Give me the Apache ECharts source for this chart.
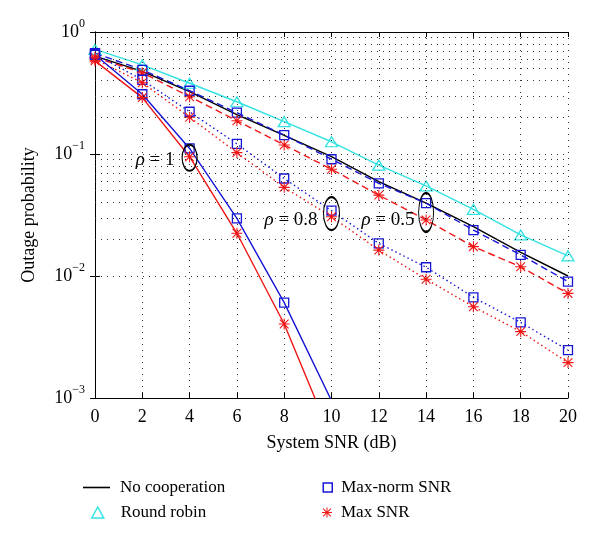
<!DOCTYPE html>
<html><head><meta charset="utf-8">
<script src="https://cdn.jsdelivr.net/npm/echarts@6/dist/echarts.min.js"></script>
<style>html,body{margin:0;padding:0;background:#fff}#c{width:600px;height:539px}</style>
</head><body><div id="c"></div>
<script>
// ---- data ----
const snr = [0, 2, 4, 6, 8, 10, 12, 14, 16, 18, 20];
const noCooperation = [0.635, 0.475, 0.325, 0.21, 0.142, 0.095, 0.0593, 0.0396, 0.0254, 0.0156, 0.0100];
const roundRobin    = [0.72, 0.537, 0.38, 0.268, 0.184, 0.126, 0.081, 0.0547, 0.0352, 0.0217, 0.0146];
const maxNormRho05  = [0.67, 0.49, 0.33, 0.218, 0.143, 0.0906, 0.0575, 0.0396, 0.0238, 0.0149, 0.009];
const maxSnrRho05   = [0.62, 0.464, 0.295, 0.1875, 0.1186, 0.075, 0.046, 0.0288, 0.0174, 0.0119, 0.0072];
const maxNormRho08  = [0.66, 0.405, 0.222, 0.121, 0.063, 0.0343, 0.0185, 0.0118, 0.00669, 0.00416, 0.00247];
const maxSnrRho08   = [0.60, 0.384, 0.20, 0.1026, 0.0533, 0.0306, 0.0163, 0.0094, 0.0056, 0.0035, 0.00195];
const maxNormRho1   = [0.65, 0.309, 0.111, 0.0297, 0.00605, 0.00095];
const maxSnrRho1    = [0.58, 0.29, 0.095, 0.0224, 0.00404, 0.00047];
const yTickExponents = [-3, -2, -1, 0];
const xTickLabels = ['0','2','4','6','8','10','12','14','16','18','20'];
const annotations = [
  {text: '{i|ρ} = 1',   x: 2.54,  y: 0.0893},
  {text: '{i|ρ} = 0.8', x: 8.29,  y: 0.0288},
  {text: '{i|ρ} = 0.5', x: 12.39, y: 0.0288}
];
const ellipses = [
  {x: 4,  y: 0.093,  w: 15, h: 26},
  {x: 10, y: 0.0325, w: 16, h: 33},
  {x: 14, y: 0.0332, w: 15, h: 39}
];

// ---- styling ----
const FONT = "'Liberation Serif','DejaVu Serif',serif";
const BLUE = '#1616d8', RED = '#f01616', CYAN = '#33e3e3', BLACK = '#000';
const STAR = 'path://M9,0L11,0L11,20L9,20Z M0,9L20,9L20,11L0,11Z M1.4,2.8L2.8,1.4L18.6,17.2L17.2,18.6Z M17.2,1.4L18.6,2.8L2.8,18.6L1.4,17.2Z';
const LINE_ICON = 'path://M0,0L27,0L27,1.6L0,1.6Z';
const DASH = [7, 4], DOT = [1.5, 3];

function pairs(vals) { return vals.map((v, i) => [snr[i], v]); }

const minorGrid = [];
[0.001, 0.01, 0.1].forEach(d => { for (let m = 2; m <= 9; m++) minorGrid.push({yAxis: +(d * m).toPrecision(3)}); });

function lineSeries(name, vals, color, type, symbol, size, hollow) {
  return {
    name, type: 'line', data: pairs(vals), clip: true,
    symbol: symbol, symbolSize: size, showSymbol: symbol !== 'none',
    lineStyle: {color, width: 1.4, type},
    itemStyle: hollow ? {color: 'rgba(0,0,0,0)', borderColor: color, borderWidth: 1.3} : {color, borderWidth: 0},
    emphasis: {disabled: true}, z: 3
  };
}

const series = [
  {
    name: 'grid', type: 'line', data: [], silent: true,
    markLine: {silent: true, symbol: 'none', label: {show: false},
      lineStyle: {color: '#333', width: 1, type: [1, 5]}, data: minorGrid, animation: false}
  },
  lineSeries('No cooperation', noCooperation, BLACK, 'solid', 'none', 0, false),
  lineSeries('Round robin', roundRobin, CYAN, 'solid', 'triangle', [12, 10], true),
  lineSeries('Max-norm SNR', maxNormRho05, BLUE, DASH, 'rect', 9, true),
  lineSeries('Max SNR', maxSnrRho05, RED, DASH, STAR, 11, false),
  lineSeries('Max-norm SNR', maxNormRho08, BLUE, DOT, 'rect', 9, true),
  lineSeries('Max SNR', maxSnrRho08, RED, DOT, STAR, 11, false),
  lineSeries('Max-norm SNR', maxNormRho1, BLUE, 'solid', 'rect', 9, true),
  lineSeries('Max SNR', maxSnrRho1, RED, 'solid', STAR, 11, false)
];
series[1].markPoint = {
  silent: true, animation: false,
  data: ellipses.map(e => ({coord: [e.x, e.y], symbol: 'circle', symbolSize: [e.w, e.h],
      itemStyle: {color: 'rgba(0,0,0,0)', borderColor: '#000', borderWidth: 1.5}, label: {show: false}}))
    .concat(annotations.map(a => ({coord: [a.x, a.y], symbol: 'circle', symbolSize: 0,
      label: {show: true, position: 'inside', formatter: a.text, color: '#000', fontFamily: FONT, fontSize: 19,
        rich: {i: {fontStyle: 'italic', fontFamily: FONT, fontSize: 19, color: '#000'}}}})))
};

const legendText = {fontFamily: FONT, fontSize: 17, color: '#000'};
const legendBase = {orient: 'vertical', selectedMode: false, itemGap: 0, padding: 0};

const option = {
  animation: false,
  backgroundColor: '#fff',
  grid: {left: 95, right: 32, top: 32, bottom: 141, containLabel: false},
  xAxis: [
    {type: 'value', min: 0, max: 20, interval: 2, position: 'bottom',
      name: 'System SNR (dB)', nameLocation: 'middle', nameGap: 36,
      nameTextStyle: {fontFamily: FONT, fontSize: 18, color: '#000'},
      axisLine: {show: true, lineStyle: {color: '#000', width: 1}},
      axisTick: {show: true, inside: true, length: 5, lineStyle: {color: '#000'}},
      axisLabel: {show: true, margin: 10, fontFamily: FONT, fontSize: 18, color: '#000',
        formatter: (v) => xTickLabels[snr.indexOf(v)] ?? ''},
      splitLine: {show: true, lineStyle: {color: '#333', width: 1, type: [1, 5]}}},
    {type: 'value', min: 0, max: 20, interval: 2, position: 'top',
      axisLine: {show: true, lineStyle: {color: '#000', width: 1}},
      axisTick: {show: true, inside: true, length: 5, lineStyle: {color: '#000'}},
      axisLabel: {show: false}, splitLine: {show: false}}
  ],
  yAxis: [
    {type: 'log', logBase: 10, min: 0.001, max: 1, position: 'left',
      name: 'Outage probability', nameLocation: 'middle', nameGap: 57,
      nameTextStyle: {fontFamily: FONT, fontSize: 18, color: '#000'},
      axisLine: {show: true, lineStyle: {color: '#000', width: 1}},
      axisTick: {show: true, inside: true, length: 5, lineStyle: {color: '#000'}},
      axisLabel: {show: true, margin: 10, color: '#000',
        formatter: (v) => {
          const e = Math.round(Math.log10(v));
          if (yTickExponents.indexOf(e) < 0) return '';
          return '{b|10}{s|' + (e < 0 ? '−' + (-e) : e) + '}';
        },
        rich: {b: {fontFamily: FONT, fontSize: 18, color: '#000'},
               s: {fontFamily: FONT, fontSize: 12, color: '#000', padding: [0, 0, 16, 0], verticalAlign: 'bottom'}}},
      splitLine: {show: true, lineStyle: {color: '#333', width: 1, type: [1, 5]}}},
    {type: 'log', logBase: 10, min: 0.001, max: 1, position: 'right',
      axisLine: {show: true, lineStyle: {color: '#000', width: 1}},
      axisTick: {show: true, inside: true, length: 5, lineStyle: {color: '#000'}},
      axisLabel: {show: false}, splitLine: {show: false}}
  ],
  legend: [
    Object.assign({}, legendBase, {left: 83, top: 479, itemWidth: 27, itemHeight: 12,
      textStyle: Object.assign({}, legendText, {padding: [0, 0, 0, 5]}),
      data: [{name: 'No cooperation', icon: LINE_ICON, itemStyle: {color: BLACK, borderWidth: 0}}]}),
    Object.assign({}, legendBase, {left: 91, top: 504, itemWidth: 12, itemHeight: 11,
      textStyle: Object.assign({}, legendText, {padding: [0, 0, 0, 12]}),
      data: [{name: 'Round robin', icon: 'triangle',
        itemStyle: {color: 'rgba(0,0,0,0)', borderColor: CYAN, borderWidth: 1.5}}]}),
    Object.assign({}, legendBase, {left: 322.5, top: 479, itemWidth: 9, itemHeight: 9,
      textStyle: Object.assign({}, legendText, {padding: [0, 0, 0, 4]}),
      data: [{name: 'Max-norm SNR', icon: 'rect',
        itemStyle: {color: 'rgba(0,0,0,0)', borderColor: BLUE, borderWidth: 1.5}}]}),
    Object.assign({}, legendBase, {left: 322, top: 504, itemWidth: 10, itemHeight: 10,
      textStyle: Object.assign({}, legendText, {padding: [0, 0, 0, 4]}),
      data: [{name: 'Max SNR', icon: STAR, itemStyle: {color: RED, borderWidth: 0}}]})
  ],
  series
};
const chart = echarts.init(document.getElementById('c'));
chart.setOption(option);
</script>
</body></html>
